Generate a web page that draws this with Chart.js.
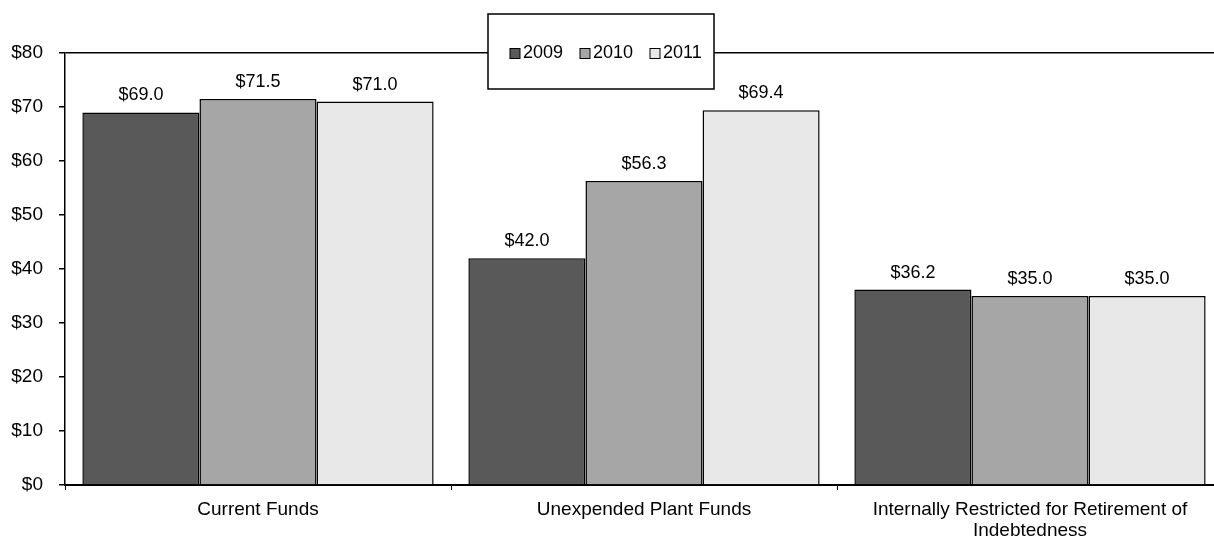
<!DOCTYPE html>
<html>
<head>
<meta charset="utf-8">
<script src="https://cdn.jsdelivr.net/npm/chart.js@4/dist/chart.umd.min.js"></script>
<style>
  html, body { margin: 0; padding: 0; background: #fff; overflow: hidden; }
  #wrap { width: 1224px; height: 540px; }
</style>
</head>
<body>
<div id="wrap"><canvas id="c" width="1224" height="540"></canvas></div>
<script>
// Fund balances by year, in millions of dollars
const categories = [
  'Current Funds',
  'Unexpended Plant Funds',
  ['Internally Restricted for Retirement of', 'Indebtedness']
];
const years = ['2009', '2010', '2011'];
const values2009 = [69.0, 42.0, 36.2];
const values2010 = [71.5, 56.3, 35.0];
const values2011 = [71.0, 69.4, 35.0];
const yTicks = [0, 10, 20, 30, 40, 50, 60, 70, 80];

const FONT = 'Liberation Sans, Arial, sans-serif';
const fills = ['#595959', '#a6a6a6', '#e8e8e8'];
const series = [values2009, values2010, values2011];

// Dollar labels above each bar
const valueLabels = {
  id: 'valueLabels',
  afterDatasetsDraw(chart) {
    const ctx = chart.ctx;
    ctx.save();
    ctx.font = '18px ' + FONT;
    ctx.fillStyle = '#000';
    ctx.textAlign = 'center';
    ctx.textBaseline = 'alphabetic';
    chart.data.datasets.forEach((ds, i) => {
      chart.getDatasetMeta(i).data.forEach((bar, j) => {
        ctx.fillText('$' + ds.data[j].toFixed(1), bar.x, bar.y - 12);
      });
    });
    ctx.restore();
  }
};

// Boxed legend sitting on top of the upper border line
const boxedLegend = {
  id: 'boxedLegend',
  afterDraw(chart) {
    const ctx = chart.ctx;
    const bx = 488, by = 14, bw = 226, bh = 75;
    ctx.save();
    ctx.fillStyle = '#fff';
    ctx.fillRect(bx, by, bw, bh);
    ctx.strokeStyle = '#000';
    ctx.lineWidth = 1.5;
    ctx.strokeRect(bx, by, bw, bh);
    ctx.font = '18px ' + FONT;
    ctx.textBaseline = 'middle';
    ctx.textAlign = 'left';
    const cy = by + bh / 2 + 2;
    const starts = [510, 580, 650];
    chart.data.datasets.forEach((ds, i) => {
      const x = starts[i];
      ctx.fillStyle = ds.backgroundColor;
      ctx.fillRect(x, cy - 5, 10, 10);
      ctx.strokeStyle = '#000';
      ctx.lineWidth = 1;
      ctx.strokeRect(x, cy - 5, 10, 10);
      ctx.fillStyle = '#000';
      ctx.fillText(ds.label, x + 13, cy);
    });
    ctx.restore();
  }
};

new Chart(document.getElementById('c'), {
  type: 'bar',
  data: {
    labels: categories,
    datasets: years.map((y, i) => ({
      label: y,
      data: series[i],
      backgroundColor: fills[i],
      borderColor: '#000',
      borderWidth: 1.5,
      borderSkipped: 'bottom',
      barPercentage: 1.0,
      categoryPercentage: 0.91
    }))
  },
  options: {
    responsive: false,
    animation: false,
    layout: { padding: { top: 53, right: 1, left: 0, bottom: 0 } },
    plugins: {
      legend: { display: false },
      tooltip: { enabled: false }
    },
    scales: {
      x: {
        offset: true,
        grid: {
          offset: true,
          drawOnChartArea: false,
          color: '#000',
          tickColor: '#000',
          tickLength: 5,
          lineWidth: 1
        },
        border: { display: true, color: '#000', width: 2 },
        ticks: {
          color: '#000',
          font: { family: FONT, size: 19, lineHeight: 1.1 },
          padding: 9,
          maxRotation: 0,
          autoSkip: false
        },
        afterFit(scale) { scale.height = 55; }
      },
      y: {
        min: 0,
        max: 80,
        afterBuildTicks(scale) { scale.ticks = yTicks.map(v => ({ value: v })); },
        grid: {
          color: c => (c.tick && c.tick.value === 80 ? '#000' : 'rgba(0,0,0,0)'),
          lineWidth: 1.5,
          tickColor: '#000',
          tickLength: 6
        },
        border: { display: true, color: '#000', width: 1.5 },
        ticks: {
          color: '#000',
          font: { family: FONT, size: 19 },
          padding: 16,
          callback: v => '$' + v
        },
        afterFit(scale) { scale.width = 65; }
      }
    }
  },
  plugins: [valueLabels, boxedLegend]
});
</script>
</body>
</html>
